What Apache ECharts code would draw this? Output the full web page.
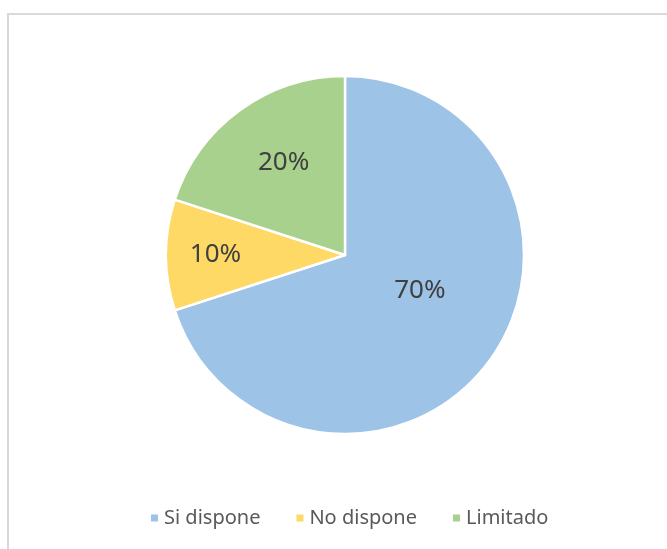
<!DOCTYPE html>
<html lang="es">

<head>
  <meta charset="UTF-8">
  <title>Disponibilidad</title>
  <script src="https://cdn.jsdelivr.net/npm/echarts@6/dist/echarts.min.js"></script>
  <style>
    html, body { margin: 0; padding: 0; background: #fff; }
    #main {
      position: absolute;
      left: 0;
      top: 0;
      width: 667px;
      height: 549px;
    }
  </style>
</head>

<body>
  <div id="main"></div>
  <script>
    // datos
    var categories = ['Si dispone', 'No dispone', 'Limitado']
    var values = [70, 10, 20]
    var colors = ['#9DC3E6', '#FFD966', '#A9D18E']
    // pequeño ajuste de las etiquetas (como las coloca Excel)
    var labelNudge = [[0, -19], [-37, 0], [-7, -18]]

    var myChart = echarts.init(document.getElementById('main'))

    var option = {
      animation: false,
      graphic: [
        {
          type: 'rect',
          shape: { x: 8, y: 14, width: 700, height: 600 },
          style: { fill: 'none', stroke: '#d9d9d9', lineWidth: 2 },
          silent: true
        }
      ],
      legend: {
        data: categories,
        left: 144,
        top: 503,
        icon: 'rect',
        itemWidth: 9,
        itemHeight: 9,
        itemGap: 34,
        textStyle: {
          color: '#595959',
          fontSize: 20,
          fontFamily: 'Noto Sans'
        }
      },
      series: [
        {
          type: 'pie',
          center: [345, 255],
          radius: 179,
          startAngle: 90,
          clockwise: true,
          itemStyle: {
            borderColor: '#fff',
            borderWidth: 2.5
          },
          label: {
            show: true,
            position: 'inside',
            formatter: '{c}%',
            color: '#404040',
            fontSize: 26,
            fontFamily: 'Noto Sans'
          },
          emphasis: { disabled: true },
          data: categories.map((c, i) => ({
            name: c,
            value: values[i],
            itemStyle: { color: colors[i] },
            label: { offset: labelNudge[i] }
          }))
        }
      ]
    }
    myChart.setOption(option)
  </script>
</body>

</html>
